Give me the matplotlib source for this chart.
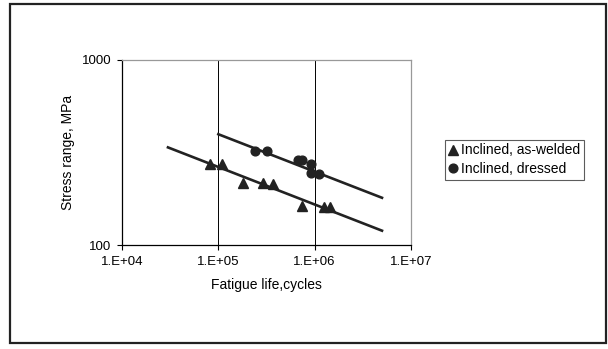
import matplotlib.pyplot as plt
import matplotlib.patches as patches
from matplotlib.ticker import FixedLocator, NullLocator, FixedFormatter

plt.rcParams['font.family'] = ['Liberation Sans', 'DejaVu Sans']

# as-welded (triangles)
welded_life = [8.2e4, 1.08e5, 1.79e5, 2.89e5, 3.67e5, 7.35e5, 1.26e6, 1.44e6]
welded_stress = [274, 274, 217, 216, 214, 163, 161, 161]

# dressed (circles)
dressed_life = [2.41e5, 3.23e5, 6.78e5, 7.35e5, 9.19e5, 9.1e5, 1.12e6]
dressed_stress = [322, 324, 288, 288, 273, 244, 242]

# fitted lines (end points)
welded_fit_x = [3.0e4, 5.0e6]
welded_fit_y = [337, 119.5]
dressed_fit_x = [1.0e5, 5.0e6]
dressed_fit_y = [397, 180]

x_ticks = [1e4, 1e5, 1e6, 1e7]
x_ticklabels = ['1.E+04', '1.E+05', '1.E+06', '1.E+07']
y_ticks = [100, 1000]
y_ticklabels = ['100', '1000']

fig = plt.figure(figsize=(6.08, 3.49), dpi=100)
ax = fig.add_axes([122/608, 104/349, 289/608, 185/349])

dark = '#222222'
ax.plot(welded_fit_x, welded_fit_y, color=dark, lw=1.9, zorder=3)
ax.plot(dressed_fit_x, dressed_fit_y, color=dark, lw=1.9, zorder=3)
ax.plot(welded_life, welded_stress, ls='none', marker='^', ms=7.5, color=dark,
        label='Inclined, as-welded', zorder=4)
ax.plot(dressed_life, dressed_stress, ls='none', marker='o', ms=6.3, color=dark,
        label='Inclined, dressed', zorder=4)

ax.set_xscale('log')
ax.set_yscale('log')
ax.set_xlim(1e4, 1e7)
ax.set_ylim(100, 1000)
ax.xaxis.set_major_locator(FixedLocator(x_ticks))
ax.xaxis.set_major_formatter(FixedFormatter(x_ticklabels))
ax.xaxis.set_minor_locator(NullLocator())
ax.yaxis.set_major_locator(FixedLocator(y_ticks))
ax.yaxis.set_major_formatter(FixedFormatter(y_ticklabels))
ax.yaxis.set_minor_locator(NullLocator())
ax.tick_params(direction='out', length=3.8, width=0.8, labelsize=9.5, color='black', pad=4)

# vertical grid lines at the inner decades
for x in [1e5, 1e6]:
    ax.axvline(x, color='black', lw=0.7, zorder=1)

ax.spines['left'].set_color('black')
ax.spines['bottom'].set_color('black')
ax.spines['top'].set_color('#999999')
ax.spines['right'].set_color('#999999')
for s in ax.spines.values():
    s.set_linewidth(0.9)

ax.set_xlabel('Fatigue life,cycles', fontsize=10, labelpad=7)
ax.set_ylabel('Stress range, MPa', fontsize=10, labelpad=5)

leg = fig.legend(loc='upper left', bbox_to_anchor=(445/608, 1 - 140/349),
                 fontsize=10, frameon=True, fancybox=False, handlelength=0.7,
                 handletextpad=0.2, borderpad=0.25, labelspacing=0.35,
                 borderaxespad=0)
leg.get_frame().set_edgecolor('#333333')
leg.get_frame().set_linewidth(0.8)

# outer border round the whole figure
frame = patches.Rectangle((10/608, 1 - 343/349), 596/608, 339/349,
                          transform=fig.transFigure, fill=False,
                          edgecolor='#222222', lw=1.6)
fig.patches.append(frame)

fig.savefig('out.png', dpi=100)
